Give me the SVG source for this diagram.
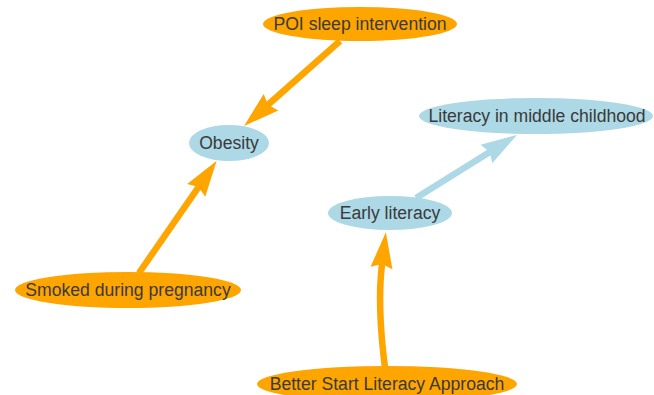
<svg xmlns="http://www.w3.org/2000/svg" width="654" height="395" viewBox="0 0 654 395">
<style>
.t{font-family:"Liberation Sans",Arial,sans-serif;font-size:17.6px;fill:#3a3a3a;text-anchor:middle}
.o{fill:#FFA500}
.b{fill:#ADD8E6}
.eo{fill:none;stroke:#FFA500;stroke-width:6.5}
.eb{fill:none;stroke:#ADD8E6;stroke-width:6.5}
</style>
<defs>
<marker id="ao" markerUnits="userSpaceOnUse" viewBox="-5 -12 38 24" refX="0" refY="0" markerWidth="38" markerHeight="24" orient="auto">
<path d="M32,0 L-4,-11 L0,0 L-4,11 Z" fill="#FFA500"/>
</marker>
<marker id="ab" markerUnits="userSpaceOnUse" viewBox="-5 -12 38 24" refX="0" refY="0" markerWidth="38" markerHeight="24" orient="auto">
<path d="M32,0 L-4,-11 L0,0 L-4,11 Z" fill="#ADD8E6"/>
</marker>
</defs>
<g id="edges">
<path class="eo" d="M340,41 L268,104.8" marker-end="url(#ao)"/>
<path class="eo" d="M139,273 L198.5,187.1" marker-end="url(#ao)"/>
<path class="eb" d="M416,198 L489.8,151.9" marker-end="url(#ab)"/>
<path class="eo" d="M385,368 Q377,305 382,264" marker-end="url(#ao)"/>
</g>
<g id="poi"><ellipse class="o" cx="360" cy="24" rx="97" ry="17"/><text class="t" x="360" y="30">POI sleep intervention</text></g>
<g id="obesity"><ellipse class="b" cx="229" cy="143" rx="40" ry="18"/><text class="t" x="229" y="149">Obesity</text></g>
<g id="smoked"><ellipse class="o" cx="128" cy="290" rx="113" ry="18"/><text class="t" x="128" y="296">Smoked during pregnancy</text></g>
<g id="middle"><ellipse class="b" cx="536" cy="116" rx="117" ry="18"/><text class="t" x="537" y="122">Literacy in middle childhood</text></g>
<g id="early"><ellipse class="b" cx="390" cy="213" rx="62" ry="17"/><text class="t" x="390" y="219">Early literacy</text></g>
<g id="better"><ellipse class="o" cx="387" cy="384" rx="130" ry="18"/><text class="t" x="387" y="390">Better Start Literacy Approach</text></g>
</svg>
